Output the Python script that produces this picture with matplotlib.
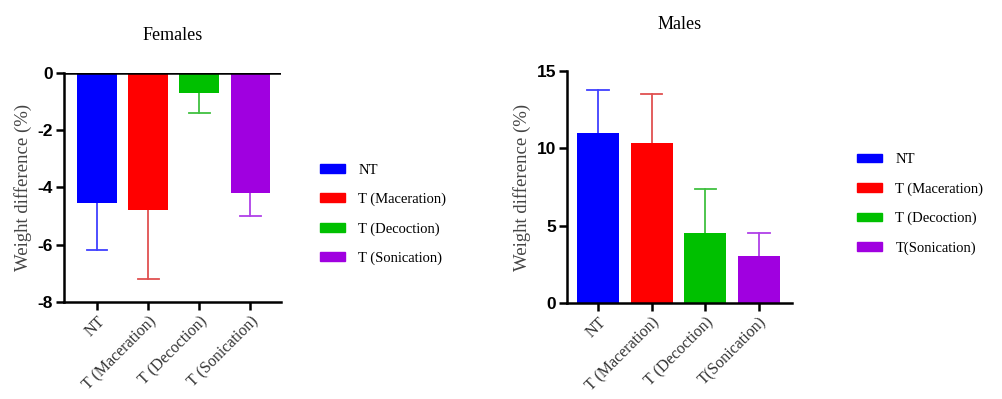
import matplotlib
matplotlib.use("Agg")
from matplotlib import pyplot as plt
from matplotlib.patches import Patch

# data
groups = ["NT", "T (Maceration)", "T (Decoction)", "T (Sonication)"]
male_labels = ["NT", "T (Maceration)", "T (Decoction)", "T(Sonication)"]
colors = ["#0000ff", "#ff0000", "#00c000", "#a000e0"]
err_colors = ["#4040ff", "#e05050", "#40c040", "#b040e8"]

female_means = [-4.55, -4.8, -0.7, -4.2]
female_err = [1.65, 2.4, 0.7, 0.8]
male_means = [11.0, 10.35, 4.55, 3.05]
male_err = [2.8, 3.15, 2.85, 1.45]

serif = "Liberation Serif"
sans = "Liberation Sans"


def bar_panel(ax, means, errs, labels, ylim, yticks, xlim, title, pad):
    x = list(range(len(means)))
    ax.bar(x, means, width=0.78, color=colors, zorder=2)
    for i, (m, e) in enumerate(zip(means, errs)):
        end = m - e if m < 0 else m + e
        ax.plot([i, i], [m, end], color=err_colors[i], lw=1.3, zorder=1)
        ax.plot([i - 0.2, i + 0.2], [end, end], color=err_colors[i], lw=1.3, zorder=1)
    ax.set_xlim(*xlim)
    ax.set_ylim(*ylim)
    ax.set_yticks(yticks)
    ax.set_yticklabels([str(t) for t in yticks], fontfamily=sans,
                       fontweight="bold", fontsize=12.5)
    ax.set_xticks(x)
    ax.set_xticklabels(labels, rotation=45, ha="right", rotation_mode="anchor",
                       fontfamily=serif, fontsize=11.5, color="#333333")
    ax.spines["top"].set_visible(False)
    ax.spines["right"].set_visible(False)
    ax.spines["left"].set_linewidth(1.8)
    ax.spines["bottom"].set_linewidth(1.8)
    ax.tick_params(width=1.8, length=6, pad=2)
    ax.set_ylabel("Weight difference (%)", fontfamily=serif, fontsize=13.5,
                  color="#444444", labelpad=4)
    ax.set_title(title, fontfamily=serif, fontsize=13, pad=pad)


fig = plt.figure(figsize=(10.02, 3.99), dpi=100)

ax1 = fig.add_axes([0.0639, 0.2431, 0.2166, 0.574])
bar_panel(ax1, female_means, female_err, groups, (-8, 0), [0, -2, -4, -6, -8],
          (-0.65, 3.6), "Females", 24)
ax1.axhline(0, color="black", lw=1.8, zorder=3)

ax2 = fig.add_axes([0.5659, 0.2406, 0.2246, 0.5815])
bar_panel(ax2, male_means, male_err, male_labels, (0, 15), [0, 5, 10, 15],
          (-0.58, 3.62), "Males", 30)

leg_style = dict(frameon=False, prop={"family": serif, "size": 10.5},
                 handlelength=1.75, handleheight=0.55, handletextpad=0.9,
                 labelspacing=1.1, borderpad=0, borderaxespad=0)

handles1 = [Patch(color=c, label=l) for c, l in zip(colors, groups)]
fig.legend(handles=handles1, loc="upper left", bbox_to_anchor=(0.319, 0.59),
           **leg_style)

handles2 = [Patch(color=c, label=l) for c, l in zip(colors, male_labels)]
fig.legend(handles=handles2, loc="upper left", bbox_to_anchor=(0.855, 0.616),
           **leg_style)

fig.savefig("out.png", dpi=100)
